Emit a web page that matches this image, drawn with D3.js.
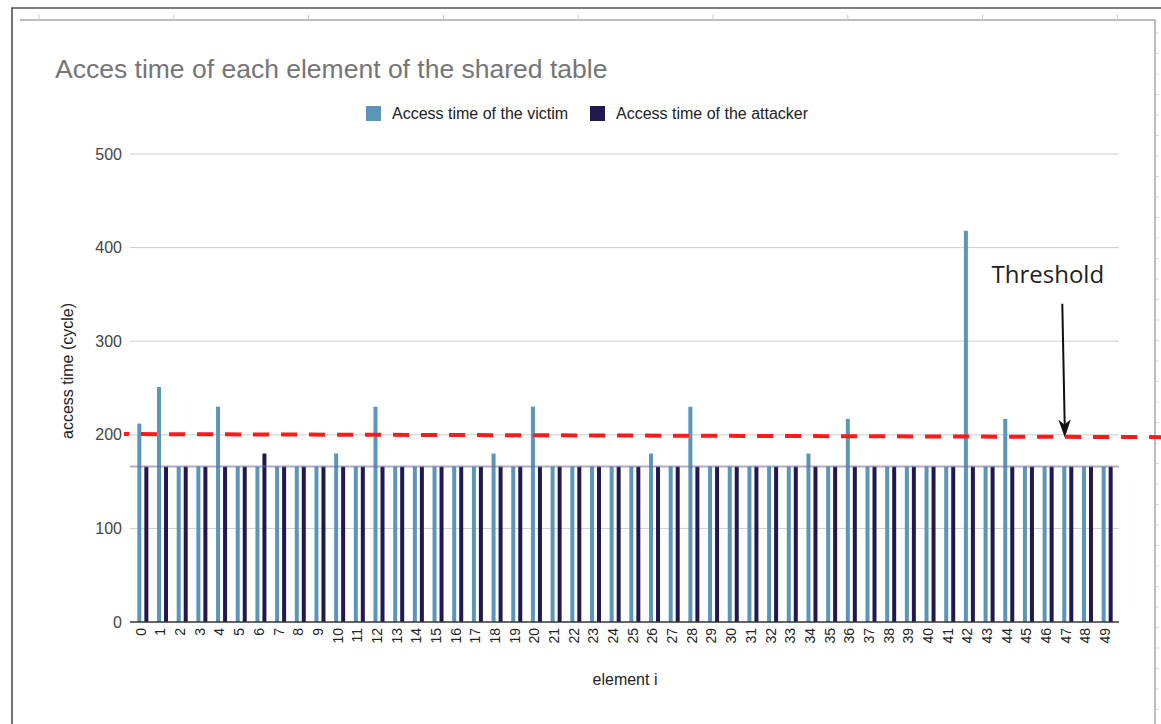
<!DOCTYPE html>
<html>
<head>
<meta charset="utf-8">
<script src="https://d3js.org/d3.v7.min.js"></script>
<style>
  body { margin: 0; background: #fff; }
  svg { display: block; font-family: "Liberation Sans", Arial, sans-serif; }
  .y-axis text { font-size: 16px; fill: #444; }
  .x-axis text { font-size: 14px; fill: #222; }
</style>
</head>
<body>
<svg id="chart"></svg>
<script>
// element index 0..49
const elements = d3.range(0, 50).map(String);
const victimTime = [212, 251, 166, 166, 230, 166, 166, 166, 166, 166,
                    180, 166, 230, 166, 166, 166, 166, 166, 180, 166,
                    230, 166, 166, 166, 166, 166, 180, 166, 230, 166,
                    166, 166, 166, 166, 180, 166, 217, 166, 166, 166,
                    166, 166, 418, 166, 217, 166, 166, 166, 166, 166];
const attackerTime = [166, 166, 166, 166, 166, 166, 180, 166, 166, 166,
                      166, 166, 166, 166, 166, 166, 166, 166, 166, 166,
                      166, 166, 166, 166, 166, 166, 166, 166, 166, 166,
                      166, 166, 166, 166, 166, 166, 166, 166, 166, 166,
                      166, 166, 166, 166, 166, 166, 166, 166, 166, 166];
const seriesNames = ['Access time of the victim', 'Access time of the attacker'];
const seriesColors = ['#5b96b8', '#20184e'];
const yTicks = [0, 100, 200, 300, 400, 500];
const baselineValue = 166;          // lavender line drawn across the bars
const thresholdEnds = [200.8, 197.5]; // hand drawn red line, slightly tilted
const arrowElement = 47;

class SharedTableChart {
    constructor(_config) {
        this.config = {
            parentElement: _config.parentElement,
            containerWidth: _config.containerWidth || 1161,
            containerHeight: _config.containerHeight || 724,
            margin: {top: 154, right: 44, bottom: 102, left: 133}
        }
        this.initVis();
    }

    initVis() {
        let vis = this;

        vis.width = vis.config.containerWidth - vis.config.margin.left - vis.config.margin.right;
        vis.height = vis.config.containerHeight - vis.config.margin.top - vis.config.margin.bottom;

        vis.svg = d3.select(vis.config.parentElement)
            .attr('width', vis.config.containerWidth)
            .attr('height', vis.config.containerHeight);

        // frame of the sheet screenshot
        vis.svg.append('line').attr('x1', 11).attr('x2', 1161).attr('y1', 8).attr('y2', 8)
            .attr('stroke', '#555').attr('stroke-width', 1.5);
        vis.svg.append('line').attr('x1', 12).attr('x2', 12).attr('y1', 8).attr('y2', 724)
            .attr('stroke', '#444').attr('stroke-width', 1.5);
        vis.svg.append('line').attr('x1', 20).attr('x2', 1155).attr('y1', 20).attr('y2', 20)
            .attr('stroke', '#bdbdbd').attr('stroke-width', 2);
        vis.svg.append('line').attr('x1', 1155).attr('x2', 1155).attr('y1', 19).attr('y2', 724)
            .attr('stroke', '#bdbdbd').attr('stroke-width', 2);
        vis.svg.selectAll('.col-tick').data(d3.range(9)).enter().append('line')
            .attr('x1', d => 39 + d * 134.8).attr('x2', d => 39 + d * 134.8)
            .attr('y1', 15).attr('y2', 20).attr('stroke', '#ccc');
        vis.svg.selectAll('.row-tick').data(d3.range(34)).enter().append('line')
            .attr('x1', 1156).attr('x2', 1159)
            .attr('y1', d => 33 + d * 20.5).attr('y2', d => 33 + d * 20.5).attr('stroke', '#ddd');

        vis.chart = vis.svg.append('g')
            .attr('transform', `translate(${vis.config.margin.left}, ${vis.config.margin.top})`);

        vis.xScale = d3.scaleBand()
            .domain(elements)
            .range([0, vis.width]);
        vis.xSub = d3.scaleBand()
            .domain(seriesNames)
            .range([(vis.xScale.bandwidth() - 11) / 2, (vis.xScale.bandwidth() + 11) / 2])
            .paddingInner(0.43);
        vis.yScale = d3.scaleLinear()
            .domain([0, 500])
            .range([vis.height, 0]);

        this.renderVis();
    }

    renderVis() {
        let vis = this;

        // title
        vis.svg.append('text').attr('x', 55).attr('y', 78)
            .text('Acces time of each element of the shared table')
            .style('font-size', '26.5px').style('fill', '#757575');

        // legend
        let legend = vis.svg.append('g').attr('transform', 'translate(366, 106)');
        let legendX = [0, 224];
        seriesNames.forEach((name, i) => {
            legend.append('rect').attr('x', legendX[i]).attr('y', 0)
                .attr('width', 15).attr('height', 15).attr('fill', seriesColors[i]);
            legend.append('text').attr('x', legendX[i] + 26).attr('y', 7.5)
                .attr('dy', '0.35em').text(name)
                .style('font-size', '16px').style('fill', '#222');
        });

        // gridlines
        vis.chart.append('g').selectAll('line')
            .data(yTicks.filter(d => d > 0)).enter().append('line')
            .attr('x1', -3).attr('x2', vis.width + 2)
            .attr('y1', d => vis.yScale(d)).attr('y2', d => vis.yScale(d))
            .attr('stroke', '#cccccc');

        vis.yAxis = d3.axisLeft(vis.yScale).tickValues(yTicks).tickSize(0).tickPadding(11);
        vis.chart.append('g').attr('class', 'axis y-axis').call(vis.yAxis)
            .call(g => g.select('.domain').remove());

        // bars
        let groups = vis.chart.append('g').selectAll('g')
            .data(elements).enter().append('g')
            .attr('transform', d => `translate(${vis.xScale(d)}, 0)`);
        groups.selectAll('rect')
            .data((d, i) => [victimTime[i], attackerTime[i]].map((v, k) => ({key: seriesNames[k], value: v, k: k})))
            .enter().append('rect')
            .attr('x', d => vis.xSub(d.key))
            .attr('width', vis.xSub.bandwidth())
            .attr('y', d => vis.yScale(d.value))
            .attr('height', d => vis.height - vis.yScale(d.value))
            .attr('fill', d => seriesColors[d.k]);

        // baseline lavender line
        vis.chart.append('line')
            .attr('x1', -3).attr('x2', vis.width + 2)
            .attr('y1', vis.yScale(baselineValue)).attr('y2', vis.yScale(baselineValue))
            .attr('stroke', '#6d66a3').attr('stroke-opacity', 0.55).attr('stroke-width', 2);

        // x axis
        vis.xAxis = d3.axisBottom(vis.xScale).tickSize(0).tickPadding(0);
        let xg = vis.chart.append('g').attr('class', 'axis x-axis')
            .attr('transform', `translate(0, ${vis.height})`)
            .call(vis.xAxis);
        xg.select('.domain').remove();
        xg.selectAll('text')
            .attr('transform', 'rotate(-90)')
            .attr('x', -6).attr('y', -2).attr('dy', '0.35em')
            .style('text-anchor', 'end');
        vis.chart.append('line')
            .attr('x1', -3).attr('x2', vis.width + 2)
            .attr('y1', vis.height).attr('y2', vis.height)
            .attr('stroke', '#333').attr('stroke-width', 1.5);

        // axis titles
        vis.chart.append('text')
            .attr('transform', `translate(-66, ${vis.height / 2 - 17}) rotate(-90)`)
            .attr('dy', '0.35em').style('text-anchor', 'middle')
            .style('font-size', '16px').style('fill', '#222')
            .text('access time (cycle)');
        vis.chart.append('text')
            .attr('x', vis.width / 2).attr('y', vis.height + 63)
            .style('text-anchor', 'middle').style('font-size', '16px').style('fill', '#222')
            .text('element i');

        // threshold annotation
        vis.svg.append('line')
            .attr('x1', vis.config.margin.left - 9).attr('x2', vis.config.containerWidth)
            .attr('y1', vis.config.margin.top + vis.yScale(thresholdEnds[0]))
            .attr('y2', vis.config.margin.top + vis.yScale(thresholdEnds[1]))
            .attr('stroke', '#ff1a1a').attr('stroke-width', 4)
            .attr('stroke-dasharray', '16 12').attr('stroke-dashoffset', 11);

        let ax = vis.xScale(String(arrowElement)) + vis.xScale.bandwidth() / 2 - 4;
        let tipY = vis.yScale(197);
        vis.chart.append('line')
            .attr('x1', ax - 1.5).attr('y1', vis.yScale(340))
            .attr('x2', ax + 1).attr('y2', tipY - 8)
            .attr('stroke', '#111').attr('stroke-width', 2);
        vis.chart.append('path')
            .attr('d', `M${ax - 5.5},${tipY - 18} L${ax + 1},${tipY} L${ax + 7},${tipY - 18} L${ax + 0.5},${tipY - 13} Z`)
            .attr('fill', '#111');
        vis.chart.append('text')
            .attr('x', ax - 16).attr('y', vis.yScale(362))
            .style('text-anchor', 'middle')
            .style('font-family', '"Open Sans", sans-serif')
            .style('font-size', '24px').style('fill', '#222')
            .text('Threshold');
    }
}

new SharedTableChart({parentElement: '#chart'});
</script>
</body>
</html>
